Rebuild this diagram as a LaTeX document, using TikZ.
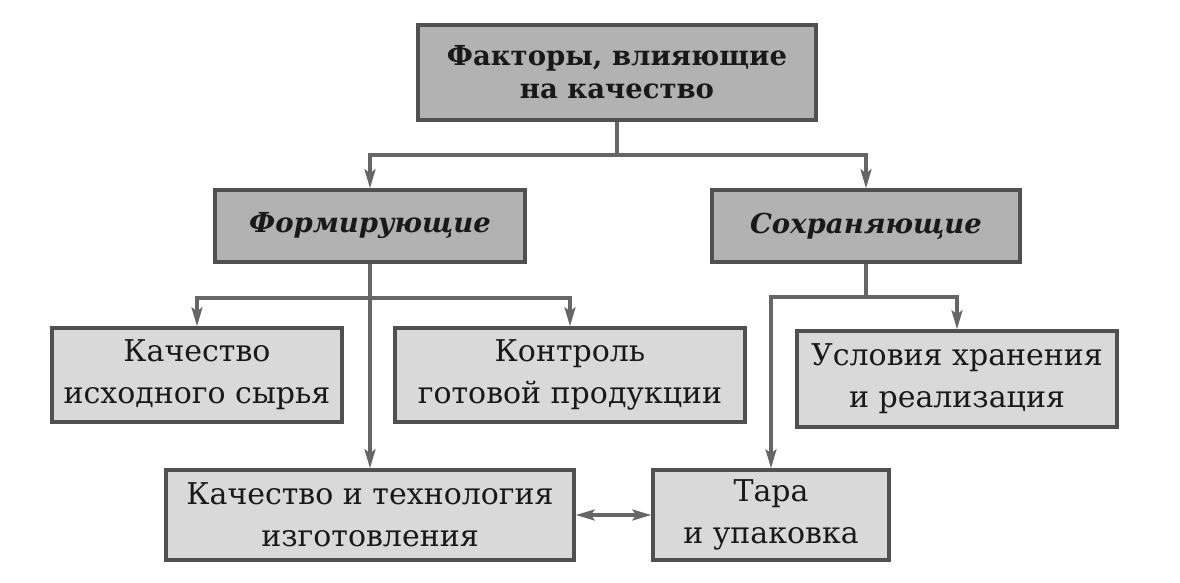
\documentclass[tikz,border=0pt]{standalone}
\usepackage{fontspec}
\setmainfont{DejaVu Serif}
\usetikzlibrary{arrows.meta}
\definecolor{dark}{HTML}{B2B2B2}
\definecolor{light}{HTML}{D9D9D9}
\definecolor{edge}{HTML}{505050}
\definecolor{conn}{HTML}{666666}
\tikzset{
  box/.style={draw=edge, line width=3.5pt, align=center, inner sep=0pt, text=black!90},
  topbox/.style={box, fill=dark, font=\fontsize{27.5}{33}\selectfont\bfseries},
  midbox/.style={box, fill=dark, font=\fontsize{27.5}{32}\selectfont\bfseries\itshape},
  leafbox/.style={box, fill=light, font=\fontsize{30}{42}\selectfont},
  conn/.style={draw=conn, line width=3.2pt},
  arr/.style={conn, -{Stealth[length=19pt,width=11pt,inset=4pt]}},
  darr/.style={conn, {Stealth[length=19pt,width=11pt,inset=4pt]}-{Stealth[length=19pt,width=11pt,inset=4pt]}}
}
\begin{document}
\begin{tikzpicture}[x=1pt,y=-1pt]
\useasboundingbox (0,0) rectangle (1180,582);
\node[topbox, minimum width=398pt, minimum height=95pt] (top) at (617,72.5) {Факторы, влияющие\\на качество};
\node[midbox, minimum width=310pt, minimum height=72pt] (form) at (370,226) {Формирующие};
\node[midbox, minimum width=308pt, minimum height=72pt] (sokh) at (866,226) {Сохраняющие};
\node[leafbox, minimum width=290pt, minimum height=94pt] (syr) at (197,375) {Качество\\исходного сырья};
\node[leafbox, minimum width=350pt, minimum height=94pt] (kontr) at (570,375) {Контроль\\готовой продукции};
\node[leafbox, minimum width=320pt, minimum height=96pt] (usl) at (957,379) {Условия хранения\\и реализация};
\node[leafbox, minimum width=408pt, minimum height=90pt] (tech) at (370,515) {Качество и технология\\изготовления};
\node[leafbox, minimum width=236pt, minimum height=90pt] (tara) at (771,515) {Тара\\и упаковка};
\coordinate (j1) at (617,155);
\coordinate (j2) at (370,298);
\coordinate (j3) at (866,297);
\draw[conn] (top.south) -- (j1);
\draw[arr] (j1) -| (form.north);
\draw[arr] (j1) -| (sokh.north);
\draw[arr] (form.south) -- (tech.north);
\draw[arr] (j2) -| (syr.north);
\draw[arr] (j2) -| (kontr.north);
\draw[conn] (sokh.south) -- (j3);
\draw[arr] (j3) -| (usl.north);
\draw[arr] (j3) -| (tara.north);
\draw[darr] (tech.east) -- (tara.west);
\end{tikzpicture}
\end{document}
